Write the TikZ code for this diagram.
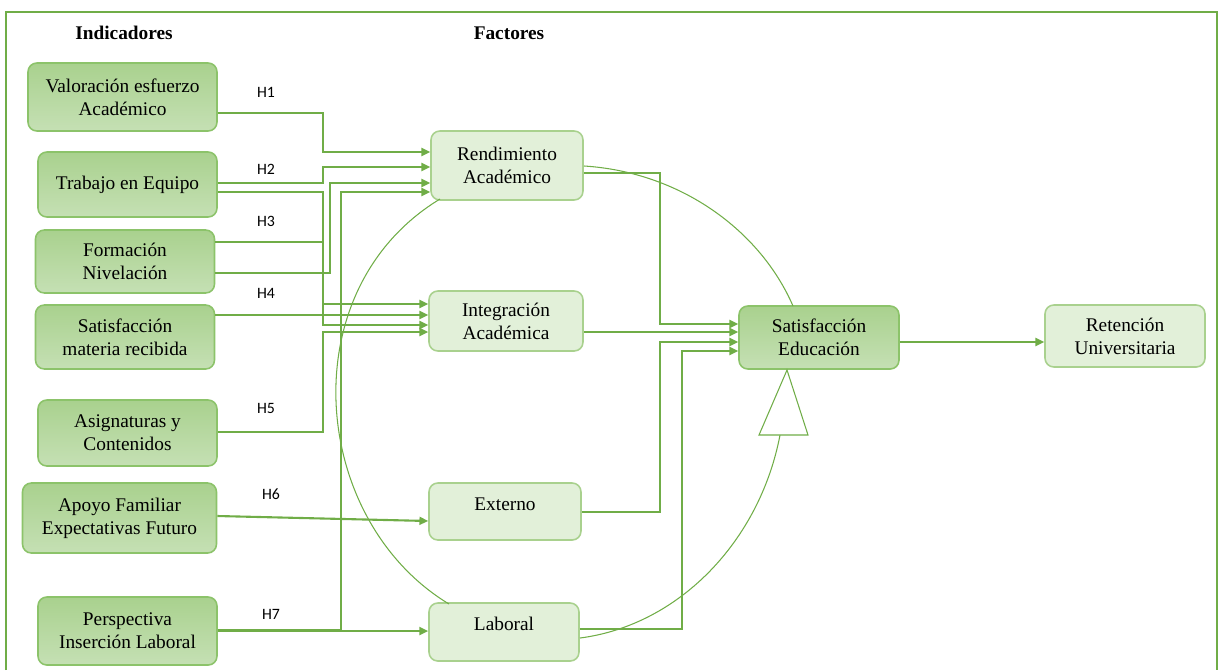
\documentclass[tikz,border=0pt]{standalone}
\usepackage{fontspec}
\setmainfont{Liberation Serif}
\newfontfamily\hfont{Carlito}
\usetikzlibrary{arrows.meta}
\definecolor{grn}{HTML}{70AD47}
\definecolor{grnmid}{HTML}{A9D18E}
\definecolor{grnlt}{HTML}{C5E0B4}
\definecolor{grnpale}{HTML}{E2F0D9}
\definecolor{grnedge}{HTML}{8CC36A}
\begin{document}
\begin{tikzpicture}[x=0.02cm,y=-0.02cm,
  ind/.style={draw=grnedge,line width=0.9pt,rounded corners=5pt,top color=grnmid,bottom color=grnlt,align=center,font=\fontsize{11}{13}\selectfont,inner sep=2pt},
  fac/.style={draw=grnmid,line width=0.9pt,rounded corners=5pt,fill=grnpale,align=center,font=\fontsize{11}{13}\selectfont,inner sep=2pt},
  link/.style={draw=grn,line width=1.2pt,-{Triangle[length=5pt,width=4.5pt]}},
  ring/.style={draw=grn,line width=0.6pt},
  hyp/.style={font=\hfont\fontsize{9}{10}\selectfont},
  head/.style={font=\bfseries\fontsize{11}{13}\selectfont}]
\useasboundingbox (0,0) rectangle (1219,670);
% frame
\draw[grn,line width=1.2pt] (6,670) -- (6,12) -- (1217,12) -- (1217,670);
% headings
\node[head] (hind) at (124,33) {Indicadores};
\node[head] (hfac) at (509,33) {Factores};
% indicators
\node[ind,minimum width=3.78cm,minimum height=1.36cm] (V)  at (122.5,97)  {Valoración esfuerzo\\Académico};
\node[ind,minimum width=3.58cm,minimum height=1.30cm] (T)  at (127.5,184.5) {Trabajo en Equipo};
\node[ind,minimum width=3.58cm,minimum height=1.26cm] (F)  at (125,261.5) {Formación\\Nivelación};
\node[ind,minimum width=3.58cm,minimum height=1.28cm] (SM) at (125,337)   {Satisfacción\\materia recibida};
\node[ind,minimum width=3.58cm,minimum height=1.32cm] (A)  at (127.5,433) {Asignaturas y\\Contenidos};
\node[ind,minimum width=3.88cm,minimum height=1.40cm] (AF) at (119.5,518) {Apoyo Familiar\\Expectativas Futuro};
\node[ind,minimum width=3.58cm,minimum height=1.36cm] (P)  at (127.5,631) {Perspectiva\\Inserción Laboral};
% factors
\node[fac,minimum width=3.04cm,minimum height=1.38cm] (R)  at (507,165.5) {Rendimiento\\Académico};
\node[fac,minimum width=3.08cm,minimum height=1.20cm] (I)  at (506,321)   {Integración\\Académica};
\node[fac,minimum width=3.04cm,minimum height=1.14cm,text depth=8pt] (E) at (505,511.5) {Externo};
\node[fac,minimum width=3.00cm,minimum height=1.16cm,text depth=9pt] (L) at (504,632)   {Laboral};
\node[ind,minimum width=3.20cm,minimum height=1.26cm] (S)  at (819,337.5) {Satisfacción\\Educación};
\node[fac,minimum width=3.20cm,minimum height=1.24cm] (RU) at (1125,336)  {Retención\\Universitaria};
% hypotheses
\node[hyp] (h1) at (266,92)  {H1};
\node[hyp] (h2) at (266,169) {H2};
\node[hyp] (h3) at (266,221) {H3};
\node[hyp] (h4) at (266,293) {H4};
\node[hyp] (h5) at (266,408) {H5};
\node[hyp] (h6) at (271,494) {H6};
\node[hyp] (h7) at (271,614) {H7};
% cycle
\draw[ring] (584,166) .. controls (680,172) and (760,230) .. (793,306);
\draw[ring] (440,199) .. controls (290,290) and (310,520) .. (449,604);
\draw[ring] (580,638) .. controls (680,625) and (760,540) .. (780,435);
\filldraw[ring,fill=white] (787,370) -- (759,435) -- (808,435) -- cycle;
% indicators to factors
\draw[link] (V.east |- 0,113) -| (323,152) -- (R.west |- 0,152);
\draw[link] (T.east |- 0,183) -| (323,167) -- (R.west |- 0,167);
\draw[link] (T.east |- 0,192) -| (323,304) -- (I.west |- 0,304);
\draw[link] (F.east |- 0,242) -| (323,325) -- (I.west |- 0,325);
\draw[link] (F.east |- 0,273) -| (330,183) -- (R.west |- 0,183);
\draw[link] (SM.east |- 0,315) -- (I.west |- 0,315);
\draw[link] (A.east |- 0,432) -| (323,332) -- (I.west |- 0,332);
\draw[link] (AF.east |- 0,516) -- (E.west |- 0,521);
\draw[link] (P.east |- 0,630) -| (341,192) -- (R.west |- 0,192);
\draw[link] (P.east |- 0,631) -- (L.west |- 0,631);
% factors to satisfaction
\draw[link] (R.east |- 0,173) -| (660,324) -- (S.west |- 0,324);
\draw[link] (I.east |- 0,332) -- (S.west |- 0,332);
\draw[link] (E.east |- 0,512) -| (660,342) -- (S.west |- 0,342);
\draw[link] (L.east |- 0,629) -| (682,351) -- (S.west |- 0,351);
\draw[link] (S.east |- 0,342) -- (RU.west |- 0,342);
\end{tikzpicture}
\end{document}
